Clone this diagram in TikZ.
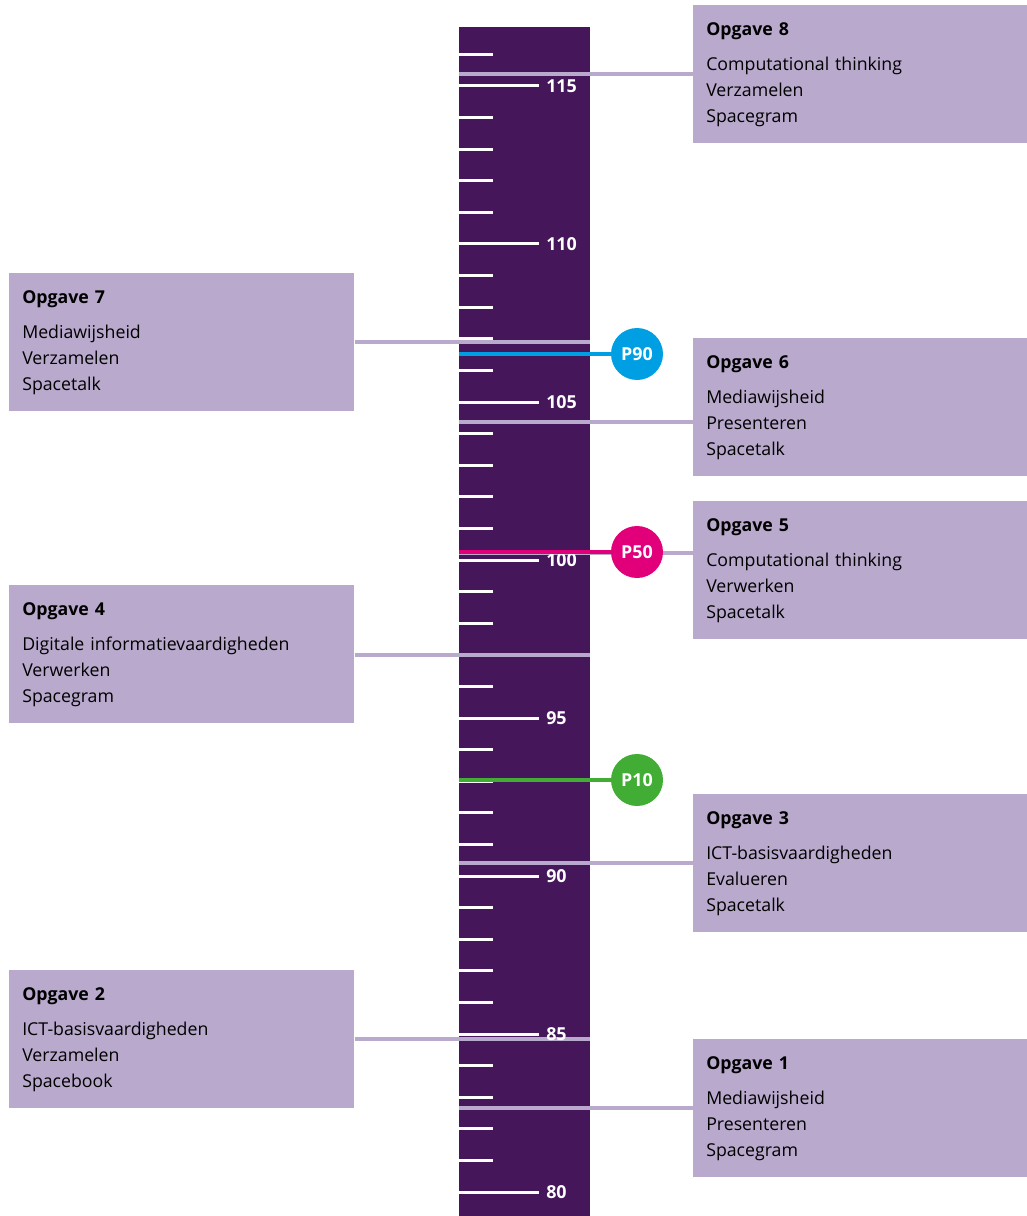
\documentclass[tikz,border=0pt]{standalone}
\usepackage{fontspec}
\setmainfont{Open Sans}
\definecolor{staaf}{HTML}{45175A}
\definecolor{lila}{HTML}{B9A9CC}
\definecolor{pblauw}{HTML}{009FE3}
\definecolor{proze}{HTML}{E2007A}
\definecolor{pgroen}{HTML}{41AD35}
\def\px{0.75pt}
\begin{document}
\begin{tikzpicture}[x=0.75pt,y=-0.75pt]
  \tikzstyle{opg}=[fill=lila, anchor=north west, align=left,
    inner xsep=13*\px, inner ysep=0pt, minimum height=138*\px,
    font=\fontsize{13.3}{19.5}\selectfont]
  \tikzstyle{tick}=[white, line width=3*\px]
  \tikzstyle{num}=[white, anchor=west, inner sep=0pt,
    font=\fontsize{13.4}{15}\selectfont\bfseries]
  \tikzstyle{link}=[lila, line width=4*\px]
  \tikzstyle{pct}=[circle, minimum size=52*\px, inner sep=0pt, text=white,
    font=\fontsize{13.4}{15}\selectfont\bfseries]
  \useasboundingbox (0,0) rectangle (1027,1216);
  % the scale bar
  \fill[staaf] (459,27) rectangle (590,1216);
  \foreach \v in {80,...,116} {
    \pgfmathsetmacro\y{86+(115-\v)*31.6}
    \draw[tick] (459,\y) -- (493,\y);
  }
  \foreach \v in {80,85,...,115} {
    \pgfmathsetmacro\y{86+(115-\v)*31.6}
    \draw[tick] (459,\y) -- (539,\y);
  }
  % boxes on the right
  \foreach \o/\y/\a/\b/\c in
    {8/5/Computational thinking/Verzamelen/Spacegram,
     6/338/Mediawijsheid/Presenteren/Spacetalk,
     5/501/Computational thinking/Verwerken/Spacetalk,
     3/794/ICT-basisvaardigheden/Evalueren/Spacetalk,
     1/1039/Mediawijsheid/Presenteren/Spacegram}
    \node[opg, text width=308*\px] (O-\o) at (693,\y)
      {\textbf{Opgave \o}\\[6.75pt]\a\\\b\\\c};
  % boxes on the left
  \foreach \o/\y/\a/\b/\c in
    {7/273/Mediawijsheid/Verzamelen/Spacetalk,
     4/585/Digitale informatievaardigheden/Verwerken/Spacegram,
     2/970/ICT-basisvaardigheden/Verzamelen/Spacebook}
    \node[opg, text width=319*\px] (O-\o) at (9,\y)
      {\textbf{Opgave \o}\\[6.75pt]\a\\\b\\\c};
  % links to the scale
  \foreach \o/\y in {8/74,6/422,5/553,3/863,1/1108} {
    \coordinate (L-\o) at (459,\y);
    \draw[link] (L-\o) -- (O-\o.west |- L-\o);
  }
  \foreach \o/\y in {7/342,4/655,2/1039} {
    \coordinate (L-\o) at (590,\y);
    \draw[link] (O-\o.east |- L-\o) -- (L-\o);
  }
  \foreach \v in {80,85,...,115} {
    \pgfmathsetmacro\y{86+(115-\v)*31.6}
    \node[num] (S-\v) at (546,\y) {\v};
  }
  % percentiles
  \foreach \p/\y/\k in {90/354/pblauw,50/552/proze,10/780/pgroen} {
    \node[pct, fill=\k] (P-\p) at (637,\y) {P\p};
    \coordinate (Q-\p) at (459,\y);
    \draw[\k, line width=4*\px] (Q-\p) -- (P-\p);
  }
\end{tikzpicture}
\end{document}
